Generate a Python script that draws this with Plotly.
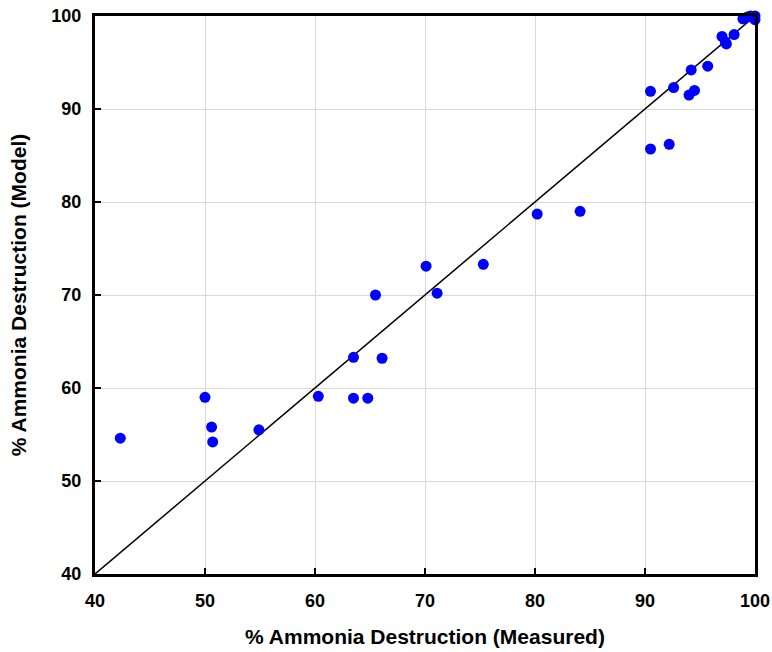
import plotly.graph_objects as go

measured = [42.3, 50.0, 50.6, 50.7, 54.9, 60.3, 63.5, 63.5, 64.8, 65.5, 66.1, 70.1, 71.1, 75.3,
            80.2, 84.1, 90.5, 90.5, 92.2, 92.6, 94.0, 94.2, 94.5, 95.7, 97.0, 97.3, 97.4, 98.1,
            98.9, 99.3, 99.6, 99.9, 100.0, 100.0]
model = [54.6, 59.0, 55.8, 54.2, 55.5, 59.1, 63.3, 58.9, 58.9, 70.0, 63.2, 73.1, 70.2, 73.3,
         78.7, 79.0, 85.7, 91.9, 86.2, 92.3, 91.5, 94.2, 92.0, 94.6, 97.8, 97.2, 97.0, 98.0,
         99.7, 99.9, 100.0, 99.8, 99.6, 100.0]
parity = [40, 100]
ticks = [40, 50, 60, 70, 80, 90, 100]

font_fam = "Liberation Sans, Arial"

fig = go.Figure()
fig.add_trace(go.Scatter(x=parity, y=parity, mode="lines",
                         line=dict(color="black", width=1.5), showlegend=False))
fig.add_trace(go.Scatter(x=measured, y=model, mode="markers",
                         marker=dict(color="#0000ff", size=11), showlegend=False, cliponaxis=False))

axis_common = dict(range=[40, 100], tickvals=ticks, showgrid=True, gridcolor="#d9d9d9", gridwidth=1,
                   showline=True, linecolor="black", linewidth=3, mirror=True,
                   ticks="inside", ticklen=6, tickwidth=2, tickcolor="black",
                   tickfont=dict(family=font_fam, size=18, color="black", weight="bold"),
                   zeroline=False, automargin=False)

fig.update_xaxes(**axis_common, ticklabelstandoff=8,
                 title=dict(text="<b>% Ammonia Destruction (Measured)</b>", standoff=20,
                            font=dict(family=font_fam, size=21, color="black")))
fig.update_yaxes(**axis_common, ticklabelstandoff=7,
                 title=dict(text="<b>% Ammonia Destruction (Model)</b>", standoff=20,
                            font=dict(family=font_fam, size=21, color="black")))

fig.update_layout(width=772, height=652, plot_bgcolor="white", paper_bgcolor="white",
                  margin=dict(l=95, r=17, t=16, b=78, autoexpand=False))
fig.write_html("out.html")
